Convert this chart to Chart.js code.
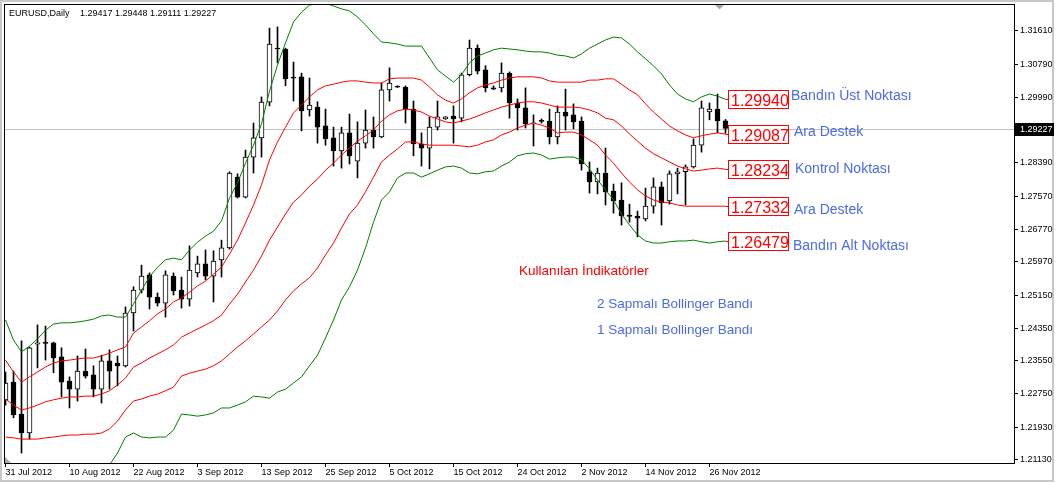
<!DOCTYPE html>
<html>
<head>
<meta charset="utf-8">
<script src="https://cdn.jsdelivr.net/npm/chart.js@4.4.0/dist/chart.umd.min.js"></script>
<style>
html, body { margin: 0; padding: 0; background: #fff; }
canvas { display: block; }
</style>
</head>
<body>
<canvas id="chart" width="1056" height="483"></canvas>
<script>
var symbolName = 'EURUSD,Daily';
var tickDates = ['31 Jul 2012', '10 Aug 2012', '22 Aug 2012', '3 Sep 2012', '13 Sep 2012', '25 Sep 2012',
  '5 Oct 2012', '15 Oct 2012', '24 Oct 2012', '2 Nov 2012', '14 Nov 2012', '26 Nov 2012'];
var barsPerTick = 8;

var opens = [1.2260, 1.2303, 1.2225, 1.2179, 1.2396, 1.2399, 1.2399, 1.2365, 1.2306, 1.2286,
  1.2330, 1.2321, 1.2286, 1.2355, 1.2350, 1.2343, 1.2472, 1.2528, 1.2565, 1.2511,
  1.2496, 1.2562, 1.2528, 1.2506, 1.2570, 1.2592, 1.2562, 1.2602, 1.2631, 1.2804,
  1.2755, 1.2853, 1.2900, 1.2987, 1.3119, 1.3117, 1.3047, 1.3049, 1.2968, 1.2975,
  1.2929, 1.2900, 1.2868, 1.2912, 1.2843, 1.2887, 1.2919, 1.2902, 1.3017, 1.3025,
  1.3024, 1.2970, 1.2885, 1.2875, 1.2926, 1.2946, 1.2953, 1.2948, 1.3054, 1.3119,
  1.3066, 1.3022, 1.3022, 1.3058, 1.2985, 1.2973, 1.2934, 1.2941, 1.2941, 1.2902,
  1.2963, 1.2956, 1.2941, 1.2817, 1.2792, 1.2814, 1.2770, 1.2748, 1.2711, 1.2709,
  1.2702, 1.2733, 1.2780, 1.2746, 1.2812, 1.2817, 1.2829, 1.2882, 1.2963, 1.2970,
  1.29417];
var highs = [1.2328, 1.2330, 1.2404, 1.2389, 1.2443, 1.2440, 1.2401, 1.2387, 1.2316, 1.2367,
  1.2384, 1.2343, 1.2369, 1.2382, 1.2367, 1.2487, 1.2536, 1.2589, 1.2570, 1.2521,
  1.2575, 1.2570, 1.2560, 1.2636, 1.2611, 1.2626, 1.2624, 1.2650, 1.2817, 1.2812,
  1.2870, 1.2936, 1.3000, 1.3168, 1.3171, 1.3119, 1.3085, 1.3058, 1.3046, 1.2988,
  1.2970, 1.2926, 1.2926, 1.2958, 1.2939, 1.2968, 1.2951, 1.3034, 1.3071, 1.3027,
  1.3027, 1.2990, 1.2912, 1.2951, 1.2990, 1.2952, 1.2978, 1.3058, 1.3139, 1.3127,
  1.3076, 1.3027, 1.3083, 1.3061, 1.2995, 1.3022, 1.2956, 1.2946, 1.2970, 1.2978,
  1.3019, 1.2983, 1.2951, 1.2841, 1.2826, 1.2875, 1.2787, 1.2790, 1.2738, 1.2721,
  1.2777, 1.2802, 1.2792, 1.2819, 1.2826, 1.2834, 1.2897, 1.2990, 1.2985, 1.3007,
  1.29448];
var lows = [1.2247, 1.2216, 1.2130, 1.2164, 1.2338, 1.2357, 1.2326, 1.2267, 1.2240, 1.2257,
  1.2313, 1.2267, 1.2252, 1.2286, 1.2294, 1.2340, 1.2428, 1.2521, 1.2482, 1.2489,
  1.2462, 1.2516, 1.2484, 1.2489, 1.2560, 1.2553, 1.2499, 1.2560, 1.2628, 1.2753,
  1.2753, 1.2814, 1.2853, 1.2978, 1.3083, 1.3027, 1.2990, 1.2917, 1.2953, 1.2887,
  1.2882, 1.2831, 1.2826, 1.2836, 1.2802, 1.2875, 1.2875, 1.2900, 1.2990, 1.3023,
  1.2936, 1.2856, 1.2831, 1.2824, 1.2919, 1.2945, 1.2887, 1.2939, 1.3051, 1.3056,
  1.3012, 1.3018, 1.3012, 1.2948, 1.2919, 1.2924, 1.2880, 1.2936, 1.2885, 1.2885,
  1.2919, 1.2922, 1.2821, 1.2765, 1.2763, 1.2736, 1.2716, 1.2687, 1.2694, 1.2658,
  1.2697, 1.2716, 1.2687, 1.2738, 1.2763, 1.2736, 1.2826, 1.2865, 1.2944, 1.2912,
  1.29111];
var closes = [1.2301, 1.2223, 1.2179, 1.2387, 1.2399, 1.2398, 1.2362, 1.2303, 1.2286, 1.2330,
  1.2318, 1.2286, 1.2355, 1.2330, 1.2343, 1.2472, 1.2528, 1.2562, 1.2511, 1.2496,
  1.2565, 1.2526, 1.2506, 1.2577, 1.2592, 1.2562, 1.2599, 1.2631, 1.2814, 1.2755,
  1.2853, 1.2900, 1.2987, 1.3129, 1.3117, 1.3044, 1.3046, 1.2966, 1.2980, 1.2926,
  1.2897, 1.2868, 1.2912, 1.2856, 1.2887, 1.2919, 1.2902, 1.3017, 1.3034, 1.3024,
  1.2970, 1.2885, 1.2875, 1.2926, 1.2951, 1.2951, 1.2946, 1.3054, 1.3119, 1.3063,
  1.3022, 1.3019, 1.3058, 1.2985, 1.2973, 1.2934, 1.2936, 1.2940, 1.2902, 1.2963,
  1.2953, 1.2939, 1.2836, 1.2792, 1.2814, 1.2768, 1.2746, 1.2709, 1.2708, 1.2704,
  1.2733, 1.2780, 1.2741, 1.2812, 1.2817, 1.2829, 1.2882, 1.2973, 1.2970, 1.2941,
  1.29227];

// Bollinger 2 sigma (green) and 1 sigma (red) bands
var upper2 = [1.2455, 1.2406, 1.2377, 1.2391, 1.2409, 1.2430, 1.2445, 1.2448, 1.2448, 1.2450,
  1.2453, 1.2457, 1.2465, 1.2467, 1.2462, 1.2462, 1.2494, 1.2528, 1.2560, 1.2584,
  1.2602, 1.2606, 1.2602, 1.2626, 1.2645, 1.2660, 1.2672, 1.2697, 1.2753, 1.2790,
  1.2838, 1.2882, 1.2934, 1.3014, 1.3078, 1.3132, 1.3183, 1.3207, 1.3224, 1.3229,
  1.3229, 1.3222, 1.3215, 1.3210, 1.3195, 1.3176, 1.3154, 1.3134, 1.3132, 1.3129,
  1.3124, 1.3124, 1.3124, 1.3095, 1.3066, 1.3051, 1.3036, 1.3054, 1.3083, 1.3100,
  1.3107, 1.3115, 1.3119, 1.3117, 1.3115, 1.3112, 1.3110, 1.3110, 1.3107, 1.3102,
  1.3100, 1.3095, 1.3105, 1.3119, 1.3129, 1.3139, 1.3146, 1.3144, 1.3129, 1.3110,
  1.3093, 1.3076, 1.3056, 1.3029, 1.3007, 1.2995, 1.2988, 1.3000, 1.3007, 1.3002,
  1.2994];
var upper1 = [1.2357, 1.2328, 1.2303, 1.2316, 1.2328, 1.2340, 1.2350, 1.2355, 1.2357, 1.2360,
  1.2362, 1.2362, 1.2367, 1.2374, 1.2382, 1.2389, 1.2423, 1.2438, 1.2453, 1.2470,
  1.2482, 1.2499, 1.2509, 1.2523, 1.2538, 1.2550, 1.2567, 1.2584, 1.2616, 1.2650,
  1.2692, 1.2736, 1.2785, 1.2846, 1.2890, 1.2926, 1.2961, 1.2980, 1.3000, 1.3017,
  1.3027, 1.3031, 1.3036, 1.3039, 1.3039, 1.3036, 1.3034, 1.3034, 1.3044, 1.3046,
  1.3046, 1.3046, 1.3041, 1.3024, 1.3005, 1.2992, 1.2985, 1.2995, 1.3010, 1.3022,
  1.3029, 1.3034, 1.3041, 1.3046, 1.3049, 1.3049, 1.3049, 1.3046, 1.3039, 1.3036,
  1.3036, 1.3036, 1.3036, 1.3041, 1.3041, 1.3044, 1.3044, 1.3031, 1.3017, 1.3005,
  1.2983, 1.2963, 1.2946, 1.2929, 1.2917, 1.2907, 1.2900, 1.2905, 1.2909, 1.2912,
  1.2909];
var middle = [1.2262, 1.2247, 1.2235, 1.2240, 1.2247, 1.2255, 1.2260, 1.2264, 1.2267, 1.2267,
  1.2269, 1.2269, 1.2274, 1.2282, 1.2296, 1.2313, 1.2340, 1.2350, 1.2362, 1.2372,
  1.2382, 1.2394, 1.2413, 1.2423, 1.2433, 1.2443, 1.2453, 1.2467, 1.2494, 1.2518,
  1.2548, 1.2577, 1.2611, 1.2650, 1.2682, 1.2714, 1.2743, 1.2760, 1.2782, 1.2799,
  1.2821, 1.2838, 1.2858, 1.2875, 1.2892, 1.2905, 1.2919, 1.2941, 1.2956, 1.2966,
  1.2970, 1.2968, 1.2963, 1.2953, 1.2946, 1.2939, 1.2936, 1.2941, 1.2946, 1.2953,
  1.2961, 1.2968, 1.2975, 1.2980, 1.2985, 1.2988, 1.2988, 1.2985, 1.2980, 1.2975,
  1.2975, 1.2975, 1.2973, 1.2968, 1.2961, 1.2948, 1.2944, 1.2929, 1.2909, 1.2892,
  1.2875, 1.2861, 1.2851, 1.2841, 1.2831, 1.2824, 1.2819, 1.2821, 1.2824, 1.2826,
  1.2823];
var lower1 = [1.2169, 1.2167, 1.2164, 1.2164, 1.2164, 1.2167, 1.2169, 1.2172, 1.2174, 1.2174,
  1.2176, 1.2176, 1.2179, 1.2189, 1.2208, 1.2235, 1.2257, 1.2262, 1.2269, 1.2274,
  1.2282, 1.2291, 1.2318, 1.2325, 1.2330, 1.2335, 1.2343, 1.2355, 1.2372, 1.2389,
  1.2404, 1.2421, 1.2438, 1.2455, 1.2477, 1.2504, 1.2526, 1.2543, 1.2558, 1.2582,
  1.2614, 1.2643, 1.2680, 1.2714, 1.2736, 1.2768, 1.2804, 1.2841, 1.2858, 1.2873,
  1.2890, 1.2890, 1.2885, 1.2882, 1.2882, 1.2882, 1.2882, 1.2880, 1.2878, 1.2882,
  1.2890, 1.2895, 1.2907, 1.2914, 1.2924, 1.2931, 1.2936, 1.2931, 1.2924, 1.2912,
  1.2914, 1.2914, 1.2907, 1.2895, 1.2882, 1.2858, 1.2838, 1.2814, 1.2792, 1.2773,
  1.2758, 1.2748, 1.2743, 1.2741, 1.2736, 1.2733, 1.2733, 1.2733, 1.2733, 1.2733,
  1.2733];
var lower2 = [1.2069, 1.2088, 1.2093, 1.2088, 1.2086, 1.2079, 1.2074, 1.2081, 1.2086, 1.2084,
  1.2086, 1.2081, 1.2084, 1.2101, 1.2130, 1.2169, 1.2179, 1.2169, 1.2167, 1.2169,
  1.2169, 1.2186, 1.2225, 1.2223, 1.2220, 1.2223, 1.2228, 1.2240, 1.2240, 1.2247,
  1.2255, 1.2269, 1.2267, 1.2264, 1.2279, 1.2286, 1.2301, 1.2316, 1.2343, 1.2369,
  1.2411, 1.2455, 1.2504, 1.2536, 1.2577, 1.2631, 1.2694, 1.2748, 1.2768, 1.2802,
  1.2814, 1.2814, 1.2804, 1.2812, 1.2821, 1.2829, 1.2831, 1.2826, 1.2814, 1.2812,
  1.2817, 1.2819, 1.2831, 1.2841, 1.2856, 1.2861, 1.2863, 1.2858, 1.2848, 1.2851,
  1.2853, 1.2853, 1.2846, 1.2824, 1.2797, 1.2773, 1.2748, 1.2714, 1.2687, 1.2663,
  1.2648, 1.2643, 1.2643, 1.2646, 1.2648, 1.2648, 1.2650, 1.2646, 1.2643, 1.2646,
  1.2648];

var yTicks = [1.21130, 1.21930, 1.22750, 1.23550, 1.24350, 1.25150, 1.25970, 1.26770,
  1.27570, 1.28390, 1.29990, 1.30790, 1.31610];
var levelValues = [1.29940, 1.29087, 1.28234, 1.27332, 1.26479];
var levelNames = ['Bandın Üst Noktası', 'Ara Destek', 'Kontrol Noktası', 'Ara Destek', 'Bandın Alt Noktası'];
var legendTitle = 'Kullanılan İndikatörler';
var legendLines = ['2 Sapmalı Bollinger Bandı', '1 Sapmalı Bollinger Bandı'];

var last = closes.length - 1;
var lastPrice = closes[last];
var FONT = "'Liberation Sans', Arial, sans-serif";
var BLUE = '#4a6be8';

function pts(arr) {
  return arr.map(function (v, i) { return { x: i, y: v }; });
}
function lineSet(arr, color) {
  return { type: 'line', data: pts(arr), borderColor: color, borderWidth: 1, pointRadius: 0,
    fill: false, tension: 0, order: 1 };
}

var overlay = {
  id: 'overlay',
  beforeDraw: function (chart) {
    var ctx = chart.ctx;
    ctx.save();
    ctx.fillStyle = '#fff';
    ctx.fillRect(0, 0, chart.width, chart.height);
    ctx.strokeStyle = '#c8c8c8';
    ctx.lineWidth = 2;
    ctx.strokeRect(1, 1, 1052, 480);
    ctx.restore();
  },
  beforeDatasetsDraw: function (chart) {
    var ctx = chart.ctx, a = chart.chartArea;
    var y = Math.round(chart.scales.y.getPixelForValue(lastPrice)) + 0.5;
    ctx.save();
    ctx.strokeStyle = '#c0c0c0';
    ctx.lineWidth = 1;
    ctx.beginPath();
    ctx.moveTo(a.left, y);
    ctx.lineTo(a.right, y);
    ctx.stroke();
    ctx.restore();
  },
  afterDatasetsDraw: function (chart) {
    var ctx = chart.ctx, ys = chart.scales.y, xs = chart.scales.x;
    var xEnd = xs.getPixelForValue(last);
    var blueY = [100, 136, 173, 214, 250];
    var blueX = [791, 794, 795, 794, 793];
    ctx.save();
    levelValues.forEach(function (v, i) {
      var y = Math.round(ys.getPixelForValue(v));
      ctx.strokeStyle = '#ff0000';
      ctx.lineWidth = 1;
      ctx.beginPath();
      ctx.moveTo(xEnd, y + 0.5);
      ctx.lineTo(728, y + 0.5);
      ctx.stroke();
      ctx.fillStyle = '#fff';
      ctx.fillRect(728, y - 9, 61, 18);
      ctx.strokeRect(728.5, y - 8.5, 60, 18);
      ctx.fillStyle = '#ff0000';
      ctx.font = '16px ' + FONT;
      ctx.textBaseline = 'alphabetic';
      ctx.fillText(v.toFixed(5), 731, y + 7);
      ctx.fillStyle = BLUE;
      ctx.font = '14px ' + FONT;
      ctx.fillText(levelNames[i], blueX[i], blueY[i]);
    });
    ctx.font = '13.5px ' + FONT;
    ctx.fillStyle = '#ff0000';
    ctx.fillText(legendTitle, 519, 275);
    ctx.fillStyle = BLUE;
    ctx.fillText(legendLines[0], 597, 308);
    ctx.fillText(legendLines[1], 597, 334);
    ctx.restore();
  },
  afterDraw: function (chart) {
    var ctx = chart.ctx, a = chart.chartArea;
    ctx.save();
    ctx.strokeStyle = '#000';
    ctx.lineWidth = 1;
    ctx.strokeRect(a.left + 0.5, a.top + 0.5, a.right - a.left, a.bottom - a.top);
    // chart shift marker and corner marker
    ctx.fillStyle = '#a8a8a8';
    ctx.beginPath();
    ctx.moveTo(715, 5); ctx.lineTo(724, 5); ctx.lineTo(719.5, 9.5); ctx.closePath();
    ctx.fill();
    ctx.beginPath();
    ctx.moveTo(a.left + 1, a.bottom - 6); ctx.lineTo(a.left + 1, a.bottom); ctx.lineTo(a.left + 7, a.bottom);
    ctx.closePath();
    ctx.fill();
    // current price label on the axis
    var y = Math.round(chart.scales.y.getPixelForValue(lastPrice));
    ctx.fillStyle = '#000';
    ctx.fillRect(a.right + 1, y - 6, 39, 13);
    ctx.fillStyle = '#fff';
    ctx.font = '9px ' + FONT;
    ctx.textBaseline = 'middle';
    ctx.fillText(lastPrice.toFixed(5), a.right + 6, y + 1);
    // header
    ctx.fillStyle = '#000';
    ctx.textBaseline = 'alphabetic';
    ctx.fillText(symbolName, 9, 16);
    var ohlc = [opens[last], highs[last], lows[last], closes[last]].map(function (v) { return v.toFixed(5); });
    ctx.fillText(ohlc.join(' '), 80, 16);
    ctx.restore();
  }
};

var wickData = lows.map(function (l, i) { return { x: i, y: [l, highs[i]] }; });
var bodyData = opens.map(function (o, i) { return { x: i, y: [o, closes[i]] }; });
var bodyColors = opens.map(function (o, i) { return closes[i] >= o ? '#ffffff' : '#000000'; });

new Chart(document.getElementById('chart'), {
  type: 'bar',
  data: {
    datasets: [
      lineSet(upper2, '#008000'),
      lineSet(upper1, '#ff0000'),
      lineSet(middle, '#ff0000'),
      lineSet(lower1, '#ff0000'),
      lineSet(lower2, '#008000'),
      { data: bodyData, backgroundColor: bodyColors, borderColor: '#000', borderWidth: 1,
        borderSkipped: false, barThickness: 5, minBarLength: 1, grouped: false, order: 2 },
      { data: wickData, backgroundColor: '#000', borderWidth: 0, barThickness: 1,
        grouped: false, order: 3 }
    ]
  },
  options: {
    responsive: false,
    animation: false,
    events: [],
    layout: { padding: { left: 4, top: 4, right: 0, bottom: 0 } },
    plugins: { legend: { display: false }, tooltip: { enabled: false } },
    scales: {
      x: {
        type: 'linear',
        offset: false,
        min: -0.1875,
        max: 126.0625,
        grid: { display: true, drawOnChartArea: false, drawTicks: true, tickLength: 4, color: '#000', offset: false },
        border: { display: false },
        ticks: {
          autoSkip: false, maxRotation: 0, align: 'start', padding: 0, color: '#000',
          font: { family: FONT, size: 9 },
          callback: function (v) { return tickDates[Math.round(v / barsPerTick)] || ''; }
        },
        afterBuildTicks: function (s) {
          s.ticks = tickDates.map(function (d, k) { return { value: k * barsPerTick }; });
        },
        afterFit: function (s) { s.height = 20; s.paddingLeft = 0; s.paddingRight = 0; }
      },
      y: {
        position: 'right',
        min: 1.21056,
        max: 1.32269,
        grid: { display: true, drawOnChartArea: false, drawTicks: true, tickLength: 4, color: '#000' },
        border: { display: false },
        ticks: {
          autoSkip: false, padding: 2, color: '#000',
          font: { family: FONT, size: 9 },
          callback: function (v) { return v.toFixed(5); }
        },
        afterBuildTicks: function (s) {
          s.ticks = yTicks.map(function (v) { return { value: v }; });
        },
        afterFit: function (s) { s.width = 42; s.paddingTop = 0; s.paddingBottom = 0; }
      }
    }
  },
  plugins: [overlay]
});
</script>
</body>
</html>
